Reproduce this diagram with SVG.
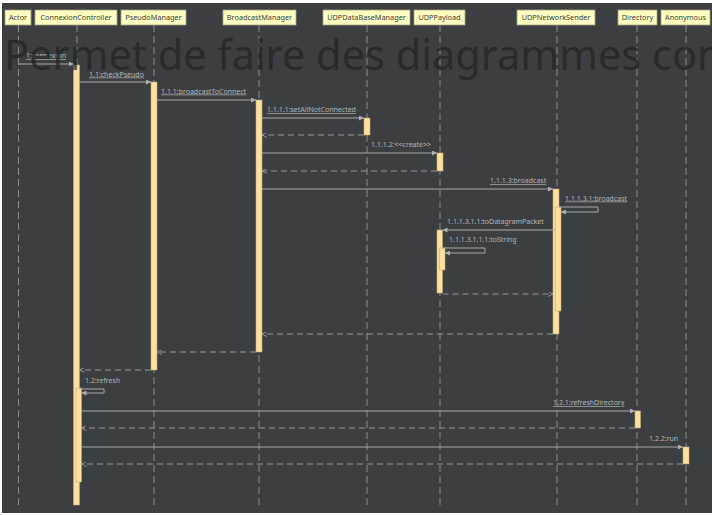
<svg xmlns="http://www.w3.org/2000/svg" width="712" height="515" viewBox="0 0 712 515">
<defs>
<style>
.hd{fill:#ffffc2;stroke:#a3a385;stroke-width:0.8}
.ht{font-family:"Noto Sans",sans-serif;font-size:7.3px;fill:#3a3a3a;text-anchor:middle}
.ll{stroke:#8c8c8c;stroke-width:1;stroke-dasharray:7,4;fill:none}
.act{fill:#ffdf9e;stroke:#c2a878;stroke-width:0.6}
.msg{stroke:#a8a8a8;stroke-width:1;fill:none}
.ret{stroke:#969696;stroke-width:1;stroke-dasharray:6,4;fill:none}
.lb{font-family:"Noto Sans",sans-serif;font-size:7px;fill:#b4b4b4}
.u{text-decoration:underline}
</style>
<marker id="ah" viewBox="0 0 6 6" refX="6" refY="3" markerWidth="5" markerHeight="5" markerUnits="userSpaceOnUse" orient="auto">
<path d="M0,0 L6,3 L0,6 z" fill="#b0b0b0"/>
</marker>
<marker id="oh" viewBox="0 0 6 6" refX="6" refY="3" markerWidth="5" markerHeight="5" markerUnits="userSpaceOnUse" orient="auto">
<path d="M0,0 L6,3 L0,6" fill="none" stroke="#a0a0a0" stroke-width="1"/>
</marker>
</defs>
<rect x="0" y="0" width="712" height="515" fill="#ffffff"/>
<rect x="2" y="3" width="710" height="510" fill="#3c3f41"/>

<g id="lifelines">
<line class="ll" x1="18.5" y1="25" x2="18.5" y2="505"/>
<line class="ll" x1="77" y1="25" x2="77" y2="505"/>
<line class="ll" x1="154" y1="25" x2="154" y2="505"/>
<line class="ll" x1="259" y1="25" x2="259" y2="505"/>
<line class="ll" x1="367" y1="25" x2="367" y2="505"/>
<line class="ll" x1="440" y1="25" x2="440" y2="505"/>
<line class="ll" x1="557" y1="25" x2="557" y2="505"/>
<line class="ll" x1="637" y1="25" x2="637" y2="505"/>
<line class="ll" x1="686" y1="25" x2="686" y2="505"/>
</g>

<g id="Actor"><rect class="hd" x="5" y="10" width="26" height="15"/><text class="ht" x="18" y="20">Actor</text></g>
<g id="ConnexionController"><rect class="hd" x="35" y="10" width="82" height="15"/><text class="ht" x="76" y="20">ConnexionController</text></g>
<g id="PseudoManager"><rect class="hd" x="121" y="10" width="65" height="15"/><text class="ht" x="153.5" y="20">PseudoManager</text></g>
<g id="BroadcastManager"><rect class="hd" x="223" y="10" width="73" height="15"/><text class="ht" x="259.5" y="20">BroadcastManager</text></g>
<g id="UDPDataBaseManager"><rect class="hd" x="323" y="10" width="87" height="15"/><text class="ht" x="366.5" y="20">UDPDataBaseManager</text></g>
<g id="UDPPayload"><rect class="hd" x="414" y="10" width="51" height="15"/><text class="ht" x="439.5" y="20">UDPPayload</text></g>
<g id="UDPNetworkSender"><rect class="hd" x="517" y="10" width="78" height="15"/><text class="ht" x="556" y="20">UDPNetworkSender</text></g>
<g id="Directory"><rect class="hd" x="618" y="10" width="39" height="15"/><text class="ht" x="637.5" y="20">Directory</text></g>
<g id="Anonymous"><rect class="hd" x="661" y="10" width="49" height="15"/><text class="ht" x="685.5" y="20">Anonymous</text></g>

<g id="activations">
<rect class="act" x="73.5" y="65" width="6" height="440"/>
<rect class="act" x="76" y="388" width="5.5" height="94"/>
<rect class="act" x="151" y="82" width="6" height="288"/>
<rect class="act" x="256" y="100" width="6" height="252"/>
<rect class="act" x="364" y="118" width="6" height="17"/>
<rect class="act" x="437" y="153" width="6" height="18"/>
<rect class="act" x="553" y="189" width="6" height="145"/>
<rect class="act" x="555.5" y="207" width="5.5" height="104"/>
<rect class="act" x="437" y="230" width="5.5" height="63"/>
<rect class="act" x="439.5" y="248" width="5.5" height="22"/>
<rect class="act" x="635" y="411" width="5.5" height="17"/>
<rect class="act" x="683" y="447" width="6" height="17"/>
</g>

<g id="connectors">
<line class="msg" x1="18.5" y1="64" x2="73.5" y2="64" marker-end="url(#ah)"/>
<text class="lb u" x="26" y="58">1:connexion</text>
<line class="msg" x1="79.5" y1="82" x2="151" y2="82" marker-end="url(#ah)"/>
<text class="lb u" x="89" y="76.5">1.1:checkPseudo</text>
<line class="msg" x1="157" y1="100" x2="256" y2="100" marker-end="url(#ah)"/>
<text class="lb u" x="161" y="93.5">1.1.1:broadcastToConnect</text>
<line class="msg" x1="262" y1="118" x2="364" y2="118" marker-end="url(#ah)"/>
<text class="lb u" x="267" y="112">1.1.1.1:setAllNotConnected</text>
<line class="ret" x1="364" y1="135" x2="262" y2="135" marker-end="url(#oh)"/>
<line class="msg" x1="262" y1="153" x2="437" y2="153" marker-end="url(#ah)"/>
<text class="lb" x="371" y="146.5">1.1.1.2:&lt;&lt;create&gt;&gt;</text>
<line class="ret" x1="437" y1="171" x2="262" y2="171" marker-end="url(#oh)"/>
<line class="msg" x1="262" y1="189" x2="553" y2="189" marker-end="url(#ah)"/>
<text class="lb u" x="490" y="183">1.1.1.3:broadcast</text>
<polyline class="msg" points="559,207 598,207 598,212 561,212" marker-end="url(#ah)"/>
<text class="lb u" x="565" y="200.5">1.1.1.3.1:broadcast</text>
<line class="msg" x1="555.5" y1="230" x2="442.5" y2="230" marker-end="url(#ah)"/>
<text class="lb" x="447" y="224">1.1.1.3.1.1:toDatagramPacket</text>
<polyline class="msg" points="442.5,248 485,248 485,253 445,253" marker-end="url(#ah)"/>
<text class="lb" x="449" y="242">1.1.1.3.1.1.1:toString</text>
<line class="ret" x1="442.5" y1="294" x2="553" y2="294" marker-end="url(#oh)"/>
<line class="ret" x1="553" y1="334" x2="262" y2="334" marker-end="url(#oh)"/>
<line class="ret" x1="256" y1="352" x2="157" y2="352" marker-end="url(#oh)"/>
<line class="ret" x1="151" y1="370" x2="79.5" y2="370" marker-end="url(#oh)"/>
<polyline class="msg" points="79.5,389 104,389 104,393 81.5,393" marker-end="url(#ah)"/>
<text class="lb" x="85" y="382.5">1.2:refresh</text>
<line class="msg" x1="81.5" y1="411" x2="635" y2="411" marker-end="url(#ah)"/>
<text class="lb u" x="553" y="405">1.2.1:refreshDirectory</text>
<line class="ret" x1="635" y1="428" x2="81.5" y2="428" marker-end="url(#oh)"/>
<line class="msg" x1="81.5" y1="447" x2="683" y2="447" marker-end="url(#ah)"/>
<text class="lb" x="649" y="441">1.2.2:run</text>
<line class="ret" x1="683" y1="464" x2="81.5" y2="464" marker-end="url(#oh)"/>
</g>

<text x="4" y="70" font-family="'Noto Sans',sans-serif" font-size="41.5" fill="#222222" fill-opacity="0.72">Permet de faire des diagrammes con</text>
</svg>
